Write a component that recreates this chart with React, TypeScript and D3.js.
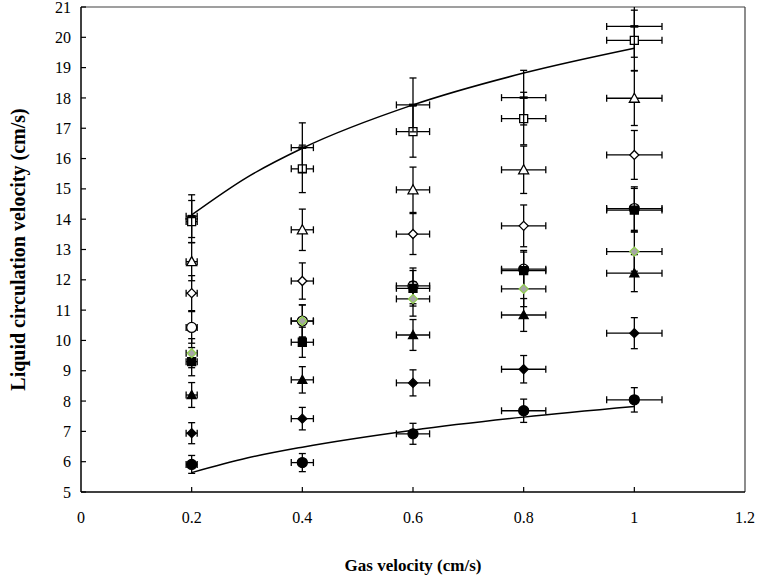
import React from "react";
import * as d3 from "d3";

const xValues = [0.2, 0.4, 0.6, 0.8, 1.0];

const filledCircle = [5.91, 5.97, 6.92, 7.68, 8.04];
const filledDiamond = [6.94, 7.42, 8.6, 9.05, 10.24];
const filledTriangle = [8.2, 8.7, 10.18, 10.84, 12.22];
const hollowCircle = [10.43, 10.64, 11.8, 12.35, 14.35];
const filledSquare = [9.3, 9.94, 11.72, 12.3, 14.3];
const greenDiamond = [9.58, 10.64, 11.37, 11.7, 12.93];
const hollowDiamond = [11.56, 11.96, 13.51, 13.78, 16.12];
const hollowTriangle = [12.6, 13.65, 14.97, 15.63, 17.99];
const hollowSquare = [13.92, 15.66, 16.89, 17.32, 19.9];
const dashSeries = [14.1, 16.36, 17.77, 18.01, 20.36];

const curveX = [0.2, 0.3, 0.4, 0.6, 0.8, 1.0];
const upperCurve = [14.14, 15.38, 16.34, 17.77, 18.82, 19.64];
const lowerCurve = [5.64, 6.12, 6.48, 7.04, 7.47, 7.82];

const errorPercent = 0.05;

const xTicks = [0, 0.2, 0.4, 0.6, 0.8, 1, 1.2];
const yTicks = [5, 6, 7, 8, 9, 10, 11, 12, 13, 14, 15, 16, 17, 18, 19, 20, 21];

type Shape = "circle" | "diamond" | "triangle" | "square" | "dash";
interface Series {
  name: string;
  values: number[];
  shape: Shape;
  fill: string;
  stroke: string;
  size: number;
}

const seriesList: Series[] = [
  { name: "filledCircle", values: filledCircle, shape: "circle", fill: "#000", stroke: "#000", size: 10 },
  { name: "filledDiamond", values: filledDiamond, shape: "diamond", fill: "#000", stroke: "#000", size: 9 },
  { name: "filledTriangle", values: filledTriangle, shape: "triangle", fill: "#000", stroke: "#000", size: 9 },
  { name: "hollowCircle", values: hollowCircle, shape: "circle", fill: "#fff", stroke: "#000", size: 10 },
  { name: "filledSquare", values: filledSquare, shape: "square", fill: "#000", stroke: "#000", size: 8 },
  { name: "greenDiamond", values: greenDiamond, shape: "diamond", fill: "#a6a6a6", stroke: "#92d050", size: 9 },
  { name: "hollowDiamond", values: hollowDiamond, shape: "diamond", fill: "#fff", stroke: "#000", size: 9 },
  { name: "hollowTriangle", values: hollowTriangle, shape: "triangle", fill: "#fff", stroke: "#000", size: 10 },
  { name: "hollowSquare", values: hollowSquare, shape: "square", fill: "#fff", stroke: "#000", size: 8 },
  { name: "dash", values: dashSeries, shape: "dash", fill: "#000", stroke: "#000", size: 8 },
];

const W = 757;
const H = 576;
const left = 81;
const right = 745;
const top = 7;
const bottom = 492;

function markerPath(shape: Shape, cx: number, cy: number, s: number): string {
  const h = s / 2;
  switch (shape) {
    case "circle":
      return `M${cx - h},${cy}a${h},${h} 0 1,0 ${s},0a${h},${h} 0 1,0 ${-s},0Z`;
    case "diamond":
      return `M${cx},${cy - h}L${cx + h},${cy}L${cx},${cy + h}L${cx - h},${cy}Z`;
    case "triangle":
      return `M${cx},${cy - h}L${cx + h},${cy + h * 0.8}L${cx - h},${cy + h * 0.8}Z`;
    case "square":
      return `M${cx - h},${cy - h}h${s}v${s}h${-s}Z`;
    case "dash":
      return `M${cx - h},${cy - 1.3}h${s}v2.6h${-s}Z`;
  }
}

const font = '"Liberation Serif", "Times New Roman", serif';
const textStyle: React.CSSProperties = { fontFamily: font };

export default function App() {
  const x = d3.scaleLinear().domain([0, 1.2]).range([left, right]);
  const y = d3.scaleLinear().domain([5, 21]).range([bottom, top]);

  const line = d3
    .line<number>()
    .x((_, i) => x(curveX[i]))
    .y((d) => y(d))
    .curve(d3.curveMonotoneX);

  const cap = 3.5;

  return (
    <svg
      width={W}
      height={H}
      style={{ position: "absolute", left: 0, top: 0, background: "#fff", fontFamily: font }}
    >
      <defs>
        <clipPath id="plotClip">
          <rect x={left} y={top} width={right - left} height={bottom - top} />
        </clipPath>
      </defs>
      <rect x={0} y={0} width={W} height={H} fill="#fff" />

      <line x1={left} y1={top} x2={right} y2={top} stroke="#404040" strokeWidth={1.2} />
      <line x1={right} y1={top} x2={right} y2={bottom} stroke="#404040" strokeWidth={1.2} />

      <line x1={left} y1={top} x2={left} y2={bottom} stroke="#000" strokeWidth={1.5} />
      <line x1={left} y1={bottom} x2={right} y2={bottom} stroke="#000" strokeWidth={1.5} />

      {yTicks.map((t) => (
        <g key={"y" + t}>
          <line x1={left} x2={left + 5} y1={y(t)} y2={y(t)} stroke="#000" strokeWidth={1.2} />
          <text x={left - 10} y={y(t)} dy="0.35em" textAnchor="end" fontSize={16} style={textStyle}>
            {t}
          </text>
        </g>
      ))}
      {xTicks.map((t) => (
        <g key={"x" + t}>
          {t > 0 && t < 1.2 && (
            <line x1={x(t)} x2={x(t)} y1={bottom} y2={bottom - 5} stroke="#000" strokeWidth={1.2} />
          )}
          <text x={x(t)} y={bottom + 31} textAnchor="middle" fontSize={16} style={textStyle}>
            {String(t)}
          </text>
        </g>
      ))}

      <text
        x={(left + right) / 2}
        y={571}
        textAnchor="middle"
        fontSize={17}
        fontWeight="bold"
        style={textStyle}
      >
        Gas velocity (cm/s)
      </text>
      <text
        transform={`translate(25,${(top + bottom) / 2}) rotate(-90)`}
        textAnchor="middle"
        fontSize={20}
        fontWeight="bold"
        style={textStyle}
      >
        Liquid circulation velocity (cm/s)
      </text>

      <path d={line(upperCurve) || ""} fill="none" stroke="#000" strokeWidth={1.5} />
      <path d={line(lowerCurve) || ""} fill="none" stroke="#000" strokeWidth={1.5} />

      <g clipPath="url(#plotClip)">
        {seriesList.map((s) => (
          <g key={s.name}>
            {s.values.map((v, i) => {
              const cx = x(xValues[i]);
              const cy = y(v);
              const dy0 = y(v * (1 + errorPercent));
              const dy1 = y(v * (1 - errorPercent));
              const dx0 = x(xValues[i] * (1 - errorPercent));
              const dx1 = x(xValues[i] * (1 + errorPercent));
              return (
                <g key={i} stroke="#000" strokeWidth={1.3}>
                  <line x1={cx} x2={cx} y1={dy0} y2={dy1} />
                  <line x1={cx - cap} x2={cx + cap} y1={dy0} y2={dy0} />
                  <line x1={cx - cap} x2={cx + cap} y1={dy1} y2={dy1} />
                  <line x1={dx0} x2={dx1} y1={cy} y2={cy} />
                  <line x1={dx0} x2={dx0} y1={cy - cap} y2={cy + cap} />
                  <line x1={dx1} x2={dx1} y1={cy - cap} y2={cy + cap} />
                </g>
              );
            })}
            {s.values.map((v, i) => (
              <path
                key={"m" + i}
                d={markerPath(s.shape, x(xValues[i]), y(v), s.size)}
                fill={s.fill}
                stroke={s.stroke}
                strokeWidth={s.shape === "dash" ? 0 : 1.3}
              />
            ))}
          </g>
        ))}
      </g>
    </svg>
  );
}
